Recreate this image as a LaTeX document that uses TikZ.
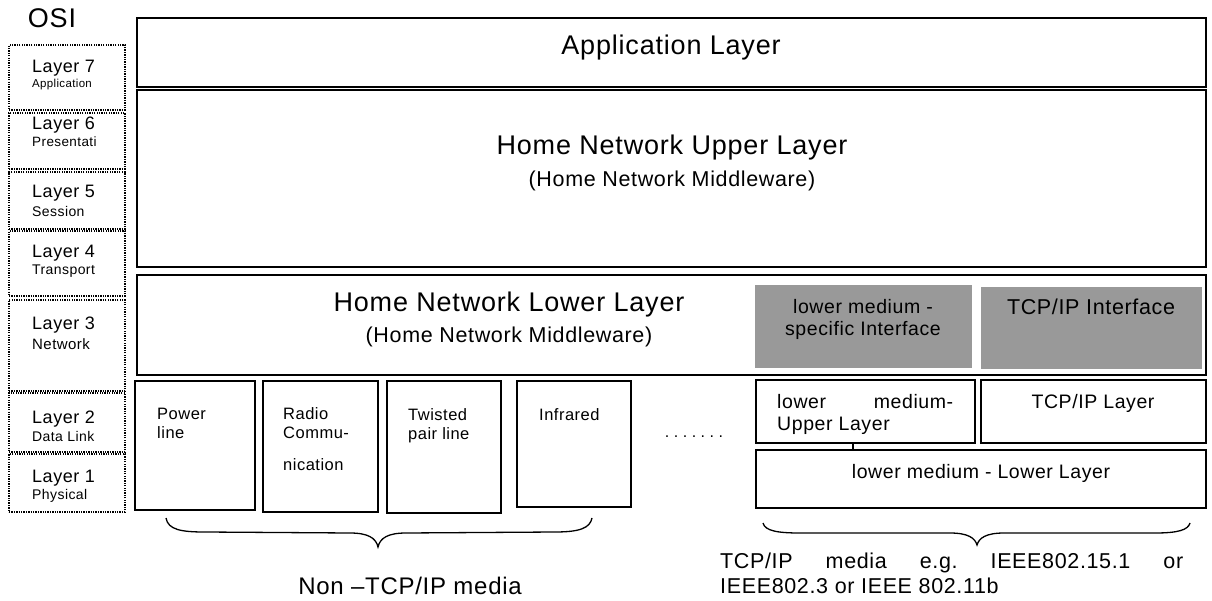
\documentclass[tikz,border=0pt]{standalone}
\usepackage{fontspec}
\setmainfont{Liberation Sans}[LetterSpace=3]
\usetikzlibrary{fit}
\newcommand\fsz[1]{\fontsize{#1}{#1}\selectfont}
\frenchspacing
\begin{document}
\begin{tikzpicture}[x=1pt,y=-1pt,
  box/.style={draw, line width=1.5pt, inner sep=0pt},
  gbox/.style={fill=black!40, draw=none, inner sep=0pt},
  osibox/.style={draw, line width=1.3pt, dash pattern=on 1.3pt off 1.1pt, inner sep=0pt},
  txt/.style={inner sep=0pt, anchor=base},
  ltxt/.style={inner sep=0pt, anchor=base west},
  brace/.style={line width=1.3pt}]
\fill[white] (0,0) rectangle (1212,601);
\useasboundingbox (0,0) rectangle (1212,601);

% OSI column
\node[txt, font=\fsz{27}] (osi) at (52,28) {OSI};
\node[osibox, fit={(9,45) (125,110)}] (l7) {};
\node[osibox, fit={(9,113) (125,169)}] (l6) {};
\node[osibox, fit={(9,172) (125,229)}] (l5) {};
\node[osibox, fit={(9,231) (125,296)}] (l4) {};
\node[osibox, fit={(9,300) (125,391)}] (l3) {};
\node[osibox, fit={(9,393) (125,452)}] (l2) {};
\node[osibox, fit={(9,454) (125,512)}] (l1) {};
\node[ltxt, font=\fsz{18}] (l7a) at (32,73) {Layer 7};
\node[ltxt, font=\fsz{11.5}] (l7b) at (32,88) {Application};
\node[ltxt, font=\fsz{18}] (l6a) at (32,130) {Layer 6};
\node[ltxt, font=\fsz{13.5}] (l6b) at (32,147) {Presentati};
\node[ltxt, font=\fsz{18}] (l5a) at (32,198) {Layer 5};
\node[ltxt, font=\fsz{14}] (l5b) at (32,217) {Session};
\node[ltxt, font=\fsz{18}] (l4a) at (32,258) {Layer 4};
\node[ltxt, font=\fsz{14}] (l4b) at (32,275) {Transport};
\node[ltxt, font=\fsz{18}] (l3a) at (32,330) {Layer 3};
\node[ltxt, font=\fsz{15}] (l3b) at (32,349) {Network};
\node[ltxt, font=\fsz{18}] (l2a) at (32,423) {Layer 2};
\node[ltxt, font=\fsz{14}] (l2b) at (32,441) {Data Link};
\node[ltxt, font=\fsz{18}] (l1a) at (32,482) {Layer 1};
\node[ltxt, font=\fsz{14}] (l1b) at (32,499) {Physical};

% main layers
\node[box, fit={(137,18) (1206,87)}] (app) {};
\node[txt, font=\fsz{27}] (appt) at (671,55) {Application Layer};
\node[box, fit={(137,90) (1206,267)}] (up) {};
\node[txt, font=\fsz{27}] (upt) at (672,155) {Home Network Upper Layer};
\node[txt, font=\fsz{21.5}] (upm) at (672,187) {(Home Network Middleware)};
\node[box, fit={(137,275) (1206,375)}] (low) {};
\node[txt, font=\fsz{27}] (lowt) at (509,312) {Home Network Lower Layer};
\node[txt, font=\fsz{21.5}] (lowm) at (509,342) {(Home Network Middleware)};

% gray interfaces
\node[gbox, fit={(755,285) (972,368)}] (g1) {};
\node[txt, font=\fsz{19.5}] (g1a) at (863,314) {lower medium -};
\node[txt, font=\fsz{19.5}] (g1b) at (863,336) {specific Interface};
\node[gbox, fit={(981,287) (1202,369)}] (g2) {};
\node[txt, font=\fsz{21.5}] (g2a) at (1091,315) {TCP/IP Interface};

% TCP/IP stack
\node[box, fit={(756,380) (975,443)}] (lmu) {};
\node[ltxt, font=\fsz{19.5}] (lmua) at (777,408) {\makebox[176pt][s]{lower medium-}};
\node[ltxt, font=\fsz{19.5}] (lmub) at (777,430) {Upper Layer};
\node[box, fit={(981,380) (1206,443)}] (tcl) {};
\node[txt, font=\fsz{19.5}] (tclt) at (1093,408) {TCP/IP Layer};
\node[box, fit={(756,450) (1206,508)}] (lml) {};
\node[txt, font=\fsz{19.5}] (lmlt) at (981,478) {lower medium - Lower Layer};
\coordinate (tk) at (853,0);
\draw[line width=1.5pt] (lmu.south -| tk) -- (lml.north -| tk);

% non TCP/IP media
\node[box, fit={(135,381) (255,510)}] (pw) {};
\node[ltxt, font=\fsz{16.5}] (pwa) at (157,419) {Power};
\node[ltxt, font=\fsz{16.5}] (pwb) at (157,438) {line};
\node[box, fit={(263,381) (378,512)}] (rc) {};
\node[ltxt, font=\fsz{16.5}] (rca) at (283,419) {Radio};
\node[ltxt, font=\fsz{16.5}] (rcb) at (283,438) {Commu-};
\node[ltxt, font=\fsz{16.5}] (rcc) at (283,470) {nication};
\node[box, fit={(387,381) (501,513)}] (tp) {};
\node[ltxt, font=\fsz{16.5}] (tpa) at (408,420) {Twisted};
\node[ltxt, font=\fsz{16.5}] (tpb) at (408,439) {pair line};
\node[box, fit={(517,381) (631,507)}] (ir) {};
\node[ltxt, font=\fsz{16.5}] (ira) at (539,420) {Infrared};
\node[txt, font=\fsz{16}] (dots) at (694,437) {.\hspace{4.5pt}.\hspace{4.5pt}.\hspace{4.5pt}.\hspace{4.5pt}.\hspace{4.5pt}.\hspace{4.5pt}.};

% braces
\draw[brace] (166,518) .. controls (168,530) and (182,532) .. (205,532)
  -- (350,533) .. controls (368,533) and (376,538) .. (378,547)
  .. controls (380,538) and (388,533) .. (406,533)
  -- (555,532) .. controls (580,532) and (590,528) .. (592,518);
\node[txt, font=\fsz{24}] (nont) at (410,594) {Non –TCP/IP media};

\draw[brace] (763,523) .. controls (765,531) and (778,533) .. (800,533)
  -- (950,533) .. controls (968,533) and (975,538) .. (977,545)
  .. controls (979,538) and (986,533) .. (1004,533)
  -- (1155,533) .. controls (1178,533) and (1188,530) .. (1190,523);
\node[ltxt, font=\fsz{21.5}] (tcpa) at (720,568) {\makebox[463pt][s]{TCP/IP media e.g. IEEE802.15.1 or}};
\node[ltxt, font=\fsz{21.5}] (tcpb) at (720,593) {IEEE802.3 or IEEE 802.11b};
\end{tikzpicture}
\end{document}
